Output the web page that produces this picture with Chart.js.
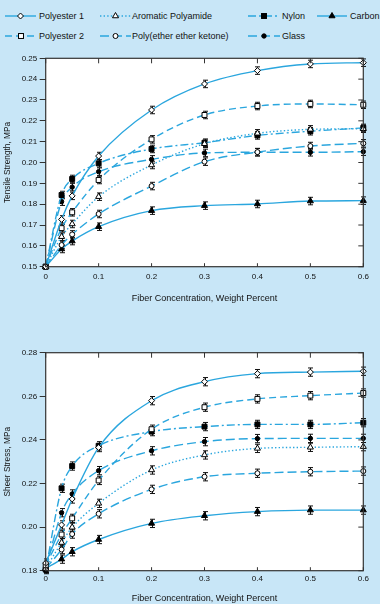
<!DOCTYPE html>
<html><head><meta charset="utf-8">
<script src="https://cdn.jsdelivr.net/npm/chart.js@4.4.1/dist/chart.umd.min.js"></script>
<style>
html,body{margin:0;padding:0;}
body{background:#c8e6f7;width:380px;height:604px;overflow:hidden;position:relative;font-family:'Liberation Sans',Arial,sans-serif;}
.lg{position:absolute;font-size:9px;line-height:12px;color:#111;white-space:nowrap;}
#lgsvg{position:absolute;left:0;top:0;}
#c1{position:absolute;left:0;top:48px;}
#c2{position:absolute;left:0;top:320px;}
</style></head>
<body>
<svg id="lgsvg" width="380" height="48"></svg>
<div class="lg" style="left:39px;top:10px">Polyester 1</div>
<div class="lg" style="left:132px;top:10px">Aromatic Polyamide</div>
<div class="lg" style="left:282px;top:10px">Nylon</div>
<div class="lg" style="left:350px;top:10px">Carbon</div>
<div class="lg" style="left:39px;top:30px">Polyester 2</div>
<div class="lg" style="left:132px;top:30px">Poly(ether ether ketone)</div>
<div class="lg" style="left:282px;top:30px">Glass</div>
<canvas id="c1" width="380" height="256"></canvas>
<canvas id="c2" width="380" height="284"></canvas>
<script>
// ---------- data ----------
const conc = [0, 0.03, 0.05, 0.1, 0.2, 0.3, 0.4, 0.5, 0.6];
const xTickLabels = ['0', '0.1', '0.2', '0.3', '0.4', '0.5', '0.6'];
const tensileTickLabels = ['0.15','0.16','0.17','0.18','0.19','0.20','0.21','0.22','0.23','0.24','0.25'];
const shearTickLabels = ['0.18','0.20','0.22','0.24','0.26','0.28'];
const seriesNames = ['Polyester 1', 'Polyester 2', 'Aromatic Polyamide', 'Poly(ether ether ketone)', 'Nylon', 'Glass', 'Carbon'];

const tensilePolyester1 = [0.150, 0.1727, 0.1840, 0.2031, 0.2252, 0.2377, 0.2441, 0.2473, 0.2479];
const tensilePolyester2 = [0.150, 0.1685, 0.1761, 0.1916, 0.2111, 0.2228, 0.2271, 0.2281, 0.2277];
const tensileAromatic   = [0.150, 0.1644, 0.1705, 0.1836, 0.1988, 0.2090, 0.2140, 0.2159, 0.2162];
const tensilePEEK       = [0.150, 0.1604, 0.1655, 0.1753, 0.1887, 0.2004, 0.2050, 0.2079, 0.2092];
const tensileNylon      = [0.150, 0.1844, 0.1921, 0.1996, 0.2065, 0.2095, 0.2130, 0.2150, 0.2166];
const tensileGlass      = [0.150, 0.1812, 0.1882, 0.1956, 0.2015, 0.2046, 0.2049, 0.2049, 0.2052];
const tensileCarbon     = [0.150, 0.1585, 0.1623, 0.1692, 0.1769, 0.1793, 0.1801, 0.1815, 0.1817];
const tensileError = 0.0018;

const shearPolyester1 = [0.1835, 0.2010, 0.2129, 0.2365, 0.2580, 0.2667, 0.2704, 0.2711, 0.2715];
const shearPolyester2 = [0.1825, 0.1966, 0.2040, 0.2214, 0.2449, 0.2550, 0.2588, 0.2603, 0.2615];
const shearAromatic   = [0.1810, 0.1929, 0.1999, 0.2109, 0.2262, 0.2331, 0.2361, 0.2366, 0.2369];
const shearPEEK       = [0.1810, 0.1897, 0.1968, 0.2061, 0.2173, 0.2231, 0.2247, 0.2254, 0.2257];
const shearNylon      = [0.1805, 0.2178, 0.2280, 0.2373, 0.2438, 0.2461, 0.2471, 0.2471, 0.2479];
const shearGlass      = [0.1810, 0.2066, 0.2152, 0.2259, 0.2350, 0.2392, 0.2406, 0.2407, 0.2407];
const shearCarbon     = [0.1810, 0.1853, 0.1887, 0.1943, 0.2017, 0.2052, 0.2071, 0.2078, 0.2078];
const shearError = 0.0019;

// ---------- styles ----------
const LINE = '#2aa6de';
const styles = [
  {dash: [], ps: 'rectRot', bg: '#fff', r: 3},
  {dash: [7, 4], ps: 'rect', bg: '#fff', r: 3.5},
  {dash: [1.4, 2.2], ps: 'triangle', bg: '#fff', r: 3.5},
  {dash: [9, 4], ps: 'circle', bg: '#fff', r: 2.5},
  {dash: [8, 3, 2, 3], ps: 'rect', bg: '#000', r: 3.5},
  {dash: [9, 4], ps: 'circle', bg: '#000', r: 2.2},
  {dash: [], ps: 'triangle', bg: '#000', r: 3.5}
];

// ---------- legend samples ----------
(function(){
  const svg = document.getElementById('lgsvg');
  const items = [
    {s:0, x1:5, x2:36, y:16}, {s:2, x1:100, x2:131, y:16}, {s:4, x1:248, x2:280, y:16}, {s:6, x1:317, x2:347, y:16},
    {s:1, x1:5, x2:37, y:36}, {s:3, x1:100, x2:131, y:36}, {s:5, x1:248, x2:280, y:36}
  ];
  let h = '';
  items.forEach(it => {
    const st = styles[it.s];
    h += `<line x1="${it.x1}" y1="${it.y}" x2="${it.x2}" y2="${it.y}" stroke="${LINE}" stroke-width="1.4" ${st.dash.length ? `stroke-dasharray="${st.dash.join(' ')}"` : ''}/>`;
    const cx = (it.x1 + it.x2) / 2, cy = it.y, r = st.r;
    let shape = '';
    if (st.ps === 'rectRot') shape = `<polygon points="${cx},${cy-r} ${cx+r},${cy} ${cx},${cy+r} ${cx-r},${cy}"/>`;
    else if (st.ps === 'rect') { const a = r*0.707; shape = `<rect x="${cx-a}" y="${cy-a}" width="${2*a}" height="${2*a}"/>`; }
    else if (st.ps === 'triangle') shape = `<polygon points="${cx},${cy-r} ${cx+r*0.866},${cy+r*0.5} ${cx-r*0.866},${cy+r*0.5}"/>`;
    else shape = `<circle cx="${cx}" cy="${cy}" r="${r}"/>`;
    h += `<g fill="${st.bg}" stroke="#000" stroke-width="1">${shape}</g>`;
  });
  svg.innerHTML = h;
})();

// ---------- chart ----------
Chart.defaults.font.family = "'Liberation Sans', Arial, sans-serif";
Chart.defaults.color = '#111';

const decor = {
  id: 'decor',
  beforeDraw(chart) {
    const {ctx, chartArea: a} = chart;
    ctx.save(); ctx.fillStyle = '#fff'; ctx.fillRect(a.left, a.top, a.width, a.height); ctx.restore();
  },
  beforeDatasetsDraw(chart, args, opts) {
    const {ctx} = chart, ys = chart.scales.y;
    ctx.save(); ctx.strokeStyle = '#111'; ctx.lineWidth = 1;
    chart.data.datasets.forEach((ds, i) => {
      const meta = chart.getDatasetMeta(i);
      ds.data.forEach((p, j) => {
        if (opts.skipZero && p.x === 0) return;
        const el = meta.data[j]; if (!el) return;
        const x = Math.round(el.x) + 0.5;
        const y1 = ys.getPixelForValue(p.y + opts.err), y2 = ys.getPixelForValue(p.y - opts.err);
        ctx.beginPath();
        ctx.moveTo(x, y1); ctx.lineTo(x, y2);
        ctx.moveTo(x - 2.5, y1); ctx.lineTo(x + 2.5, y1);
        ctx.moveTo(x - 2.5, y2); ctx.lineTo(x + 2.5, y2);
        ctx.stroke();
      });
    });
    ctx.restore();
  },
  afterDraw(chart) {
    const {ctx, chartArea: a} = chart;
    ctx.save(); ctx.strokeStyle = '#333'; ctx.lineWidth = 1.2;
    ctx.strokeRect(a.left, a.top, a.width, a.height);
    ctx.lineWidth = 1;
    ctx.beginPath();
    chart.scales.x.ticks.forEach(t => {
      const x = chart.scales.x.getPixelForValue(t.value);
      ctx.moveTo(x, a.top); ctx.lineTo(x, a.top + 5);
      ctx.moveTo(x, a.bottom); ctx.lineTo(x, a.bottom - 3.5);
    });
    chart.scales.y.ticks.forEach(t => {
      const y = chart.scales.y.getPixelForValue(t.value);
      ctx.moveTo(a.right, y); ctx.lineTo(a.right - 5, y);
    });
    ctx.stroke();
    ctx.restore();
  }
};

function makeChart(id, series, cfg) {
  const datasets = series.map((vals, i) => ({
    label: seriesNames[i],
    data: conc.map((c, j) => ({x: c, y: vals[j]})),
    borderColor: LINE,
    borderWidth: 1.4,
    borderDash: styles[i].dash,
    cubicInterpolationMode: 'monotone',
    pointStyle: styles[i].ps,
    pointRadius: styles[i].r,
    pointBackgroundColor: styles[i].bg,
    pointBorderColor: '#000',
    pointBorderWidth: 1,
    fill: false,
    clip: false
  }));
  return new Chart(document.getElementById(id), {
    type: 'line',
    data: {datasets},
    plugins: [decor],
    options: {
      responsive: false,
      animation: false,
      events: [],
      layout: {padding: {top: cfg.padTop, right: 16.7, left: 0, bottom: 0}},
      plugins: {legend: {display: false}, tooltip: {enabled: false}, decor: {err: cfg.err, skipZero: cfg.skipZero}},
      scales: {
        x: {
          type: 'linear', min: 0, max: 0.6,
          afterFit: s => { s.height = cfg.xHeight; },
          ticks: {stepSize: 0.1, padding: cfg.xPad, font: {size: 8}, color: '#111',
                  callback: (v, i) => xTickLabels[i]},
          grid: {display: true, drawOnChartArea: false, drawTicks: false},
          border: {display: false},
          title: {display: true, text: 'Fiber Concentration, Weight Percent', font: {size: 9}, color: '#111', padding: 0}
        },
        y: {
          type: 'linear', min: cfg.yMin, max: cfg.yMax,
          afterFit: s => { s.width = 45.7; },
          ticks: {stepSize: cfg.yStep, padding: 2.5, font: {size: 8}, color: '#111',
                  callback: (v, i) => cfg.yLabels[i]},
          grid: {display: true, drawOnChartArea: false, drawTicks: true, tickLength: 6, color: '#333', tickColor: '#333'},
          border: {display: false},
          title: {display: true, text: cfg.yTitle, font: {size: 8.3}, color: '#111', padding: {top: 3, bottom: 0}}
        }
      }
    }
  });
}

makeChart('c1',
  [tensilePolyester1, tensilePolyester2, tensileAromatic, tensilePEEK, tensileNylon, tensileGlass, tensileCarbon],
  {padTop: 10.3, xHeight: 37.3, xPad: 5, yMin: 0.15, yMax: 0.25, yStep: 0.01, yLabels: tensileTickLabels,
   yTitle: 'Tensile Strength, MPa', err: tensileError, skipZero: true});

makeChart('c2',
  [shearPolyester1, shearPolyester2, shearAromatic, shearPEEK, shearNylon, shearGlass, shearCarbon],
  {padTop: 32.7, xHeight: 33.3, xPad: 3.5, yMin: 0.18, yMax: 0.28, yStep: 0.02, yLabels: shearTickLabels,
   yTitle: 'Sheer Stress, MPa', err: shearError, skipZero: false});
</script>
</body></html>
